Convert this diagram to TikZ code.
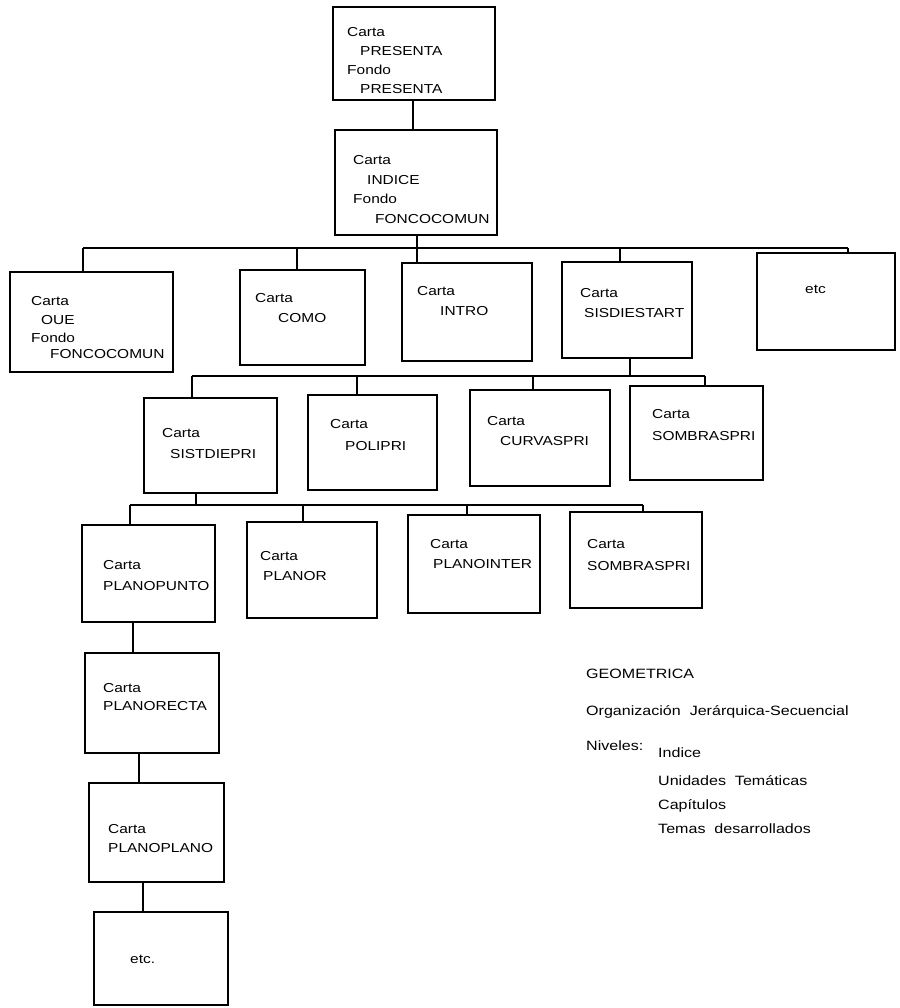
\documentclass[tikz,border=0pt]{standalone}
\usepackage{fontspec}
\setmainfont{Liberation Sans}
\newfontfamily\boxfont[FakeStretch=1.19]{Liberation Sans}
\newfontfamily\notefont[FakeStretch=1.19]{Liberation Sans}
\usetikzlibrary{fit}
\tikzset{
  box/.style={draw, line width=1.4pt, inner sep=0pt},
  conn/.style={line width=1.4pt},
  boxtxt/.style={anchor=base west, inner sep=0pt, font=\boxfont\fontsize{13}{15}\selectfont},
  notetxt/.style={anchor=base west, inner sep=0pt, font=\notefont\fontsize{13.5}{16}\selectfont},
}
\newcommand{\tl}[4]{\node[boxtxt] (#1) at (#2,#3) {#4};}
\newcommand{\nt}[4]{\node[notetxt] (#1) at (#2,#3) {#4};}
\begin{document}
\begin{tikzpicture}[x=1pt,y=-1pt]
\useasboundingbox (0,0) rectangle (899,1008);
% ---------- level 0 / 1
\node[box, fit={(333,7) (495,100)}] (b1) {};
\tl{b1a}{347}{37}{Carta}
\tl{b1b}{360}{56}{PRESENTA}
\tl{b1c}{347}{75}{Fondo}
\tl{b1d}{360}{94}{PRESENTA}
\node[box, fit={(335,130) (497,235)}] (b2) {};
\tl{b2a}{353}{165}{Carta}
\tl{b2b}{367}{185}{INDICE}
\tl{b2c}{353}{204}{Fondo}
\tl{b2d}{375}{224}{FONCOCOMUN}
\coordinate (c12) at (413,0);
\draw[conn] (b1.south -| c12) -- (b2.north -| c12);
% ---------- level 2
\node[box, fit={(10,272) (173,372)}] (que) {};
\tl{quea}{31}{305}{Carta}
\tl{queb}{41}{324}{OUE}
\tl{quec}{31}{342}{Fondo}
\tl{qued}{50}{358}{FONCOCOMUN}
\node[box, fit={(240,270) (365,365)}] (como) {};
\tl{comoa}{255}{302}{Carta}
\tl{comob}{278}{322}{COMO}
\node[box, fit={(402,263) (532,361)}] (intro) {};
\tl{introa}{417}{295}{Carta}
\tl{introb}{440}{315}{INTRO}
\node[box, fit={(562,262) (692,358)}] (sis) {};
\tl{sisa}{580}{297}{Carta}
\tl{sisb}{584}{317}{SISDIESTART}
\node[box, fit={(757,253) (895,350)}] (etc2) {};
\tl{etca}{805}{293}{etc}
\coordinate (d2a) at (83,248);
\coordinate (d2b) at (297,248);
\coordinate (d2c) at (417,248);
\coordinate (d2d) at (620,248);
\coordinate (d2e) at (848,248);
\draw[conn] (d2a) -- (d2e);
\draw[conn] (b2.south -| d2c) -- (d2c) -- (intro.north -| d2c);
\draw[conn] (d2a) -- (que.north -| d2a);
\draw[conn] (d2b) -- (como.north -| d2b);
\draw[conn] (d2d) -- (sis.north -| d2d);
\draw[conn] (d2e) -- (etc2.north -| d2e);
% ---------- level 3
\node[box, fit={(144,398) (277,493)}] (s3a) {};
\tl{s3aa}{162}{437}{Carta}
\tl{s3ab}{170}{458}{SISTDIEPRI}
\node[box, fit={(308,395) (437,490)}] (s3b) {};
\tl{s3ba}{330}{428}{Carta}
\tl{s3bb}{345}{450}{POLIPRI}
\node[box, fit={(470,390) (610,486)}] (s3c) {};
\tl{s3ca}{487}{425}{Carta}
\tl{s3cb}{500}{445}{CURVASPRI}
\node[box, fit={(630,386) (763,480)}] (s3d) {};
\tl{s3da}{652}{418}{Carta}
\tl{s3db}{652}{440}{SOMBRASPRI}
\coordinate (d3a) at (192,376);
\coordinate (d3b) at (357,376);
\coordinate (d3c) at (533,376);
\coordinate (j3) at (630,376);
\coordinate (d3d) at (705,376);
\draw[conn] (d3a) -- (d3d);
\draw[conn] (sis.south -| j3) -- (j3);
\draw[conn] (d3a) -- (s3a.north -| d3a);
\draw[conn] (d3b) -- (s3b.north -| d3b);
\draw[conn] (d3c) -- (s3c.north -| d3c);
\draw[conn] (d3d) -- (s3d.north -| d3d);
% ---------- level 4
\node[box, fit={(82,525) (215,622)}] (p4a) {};
\tl{p4aa}{103}{569}{Carta}
\tl{p4ab}{103}{590}{PLANOPUNTO}
\node[box, fit={(247,522) (377,618)}] (p4b) {};
\tl{p4ba}{260}{560}{Carta}
\tl{p4bb}{263}{580}{PLANOR}
\node[box, fit={(408,515) (540,613)}] (p4c) {};
\tl{p4ca}{430}{548}{Carta}
\tl{p4cb}{433}{568}{PLANOINTER}
\node[box, fit={(570,512) (702,608)}] (p4d) {};
\tl{p4da}{587}{548}{Carta}
\tl{p4db}{587}{570}{SOMBRASPRI}
\coordinate (d4a) at (130,505);
\coordinate (j4) at (196,505);
\coordinate (d4b) at (303,505);
\coordinate (d4c) at (467,505);
\coordinate (d4d) at (643,505);
\draw[conn] (d4a) -- (d4d);
\draw[conn] (s3a.south -| j4) -- (j4);
\draw[conn] (d4a) -- (p4a.north -| d4a);
\draw[conn] (d4b) -- (p4b.north -| d4b);
\draw[conn] (d4c) -- (p4c.north -| d4c);
\draw[conn] (d4d) -- (p4d.north -| d4d);
% ---------- sequence
\node[box, fit={(85,653) (219,753)}] (q1) {};
\tl{q1a}{103}{692}{Carta}
\tl{q1b}{103}{710}{PLANORECTA}
\node[box, fit={(89,783) (224,882)}] (q2) {};
\tl{q2a}{108}{833}{Carta}
\tl{q2b}{108}{852}{PLANOPLANO}
\node[box, fit={(94,912) (228,1005)}] (q3) {};
\tl{q3a}{130}{963}{etc.}
\coordinate (e1) at (133,0);
\coordinate (e2) at (139,0);
\coordinate (e3) at (143,0);
\draw[conn] (p4a.south -| e1) -- (q1.north -| e1);
\draw[conn] (q1.south -| e2) -- (q2.north -| e2);
\draw[conn] (q2.south -| e3) -- (q3.north -| e3);
% ---------- notes
\nt{n1}{586}{678}{GEOMETRICA}
\nt{n2}{586}{715}{Organización\ \ Jerárquica-Secuencial}
\nt{n3}{586}{750}{Niveles:}
\nt{n4}{658}{757}{Indice}
\nt{n5}{658}{785}{Unidades\ \ Temáticas}
\nt{n6}{658}{809}{Capítulos}
\nt{n7}{658}{833}{Temas\ \ desarrollados}
\end{tikzpicture}
\end{document}
